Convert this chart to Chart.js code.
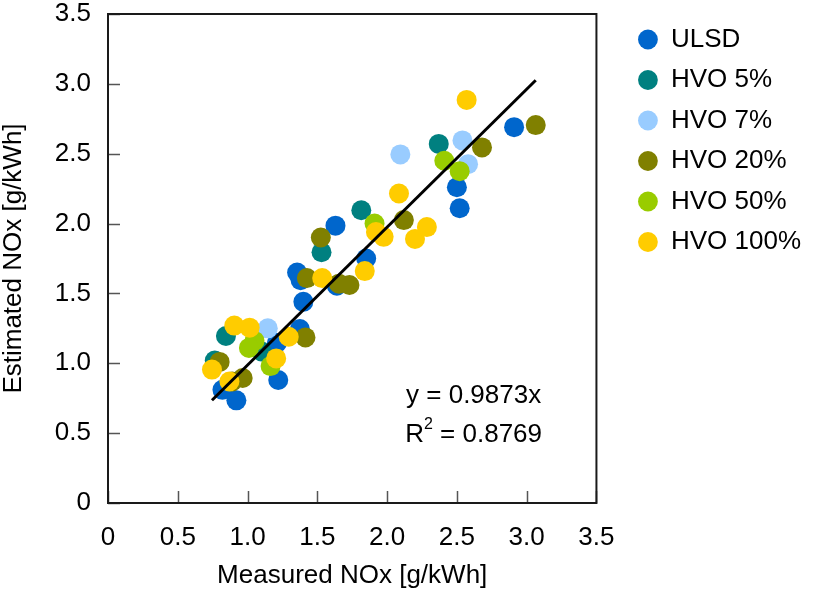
<!DOCTYPE html>
<html>
<head>
<meta charset="utf-8">
<script src="https://cdn.jsdelivr.net/npm/chart.js@4.4.1/dist/chart.umd.min.js"></script>
<style>
  html, body { margin: 0; padding: 0; background: #ffffff; }
  #wrap { width: 813px; height: 589px; }
</style>
</head>
<body>
<div id="wrap"><canvas id="chart" width="813" height="589"></canvas></div>
<script>
// Fuel blends and their colours
const seriesNames  = ['ULSD', 'HVO 5%', 'HVO 7%', 'HVO 20%', 'HVO 50%', 'HVO 100%'];
const seriesColors = ['#0066CC', '#008080', '#99CCFF', '#808000', '#99CC00', '#FFCC00'];

// Measured vs. estimated NOx [g/kWh] per blend
const ulsdMeasured     = [2.91, 2.50, 2.52, 1.63, 1.85, 1.355, 1.38, 1.64, 1.40, 1.375, 1.21, 1.22, 0.82, 0.92];
const ulsdEstimated    = [2.69, 2.26, 2.11, 1.985, 1.75, 1.65, 1.595, 1.555, 1.44, 1.245, 1.145, 0.88, 0.81, 0.735];
const hvo5Measured     = [2.37, 1.815, 1.53, 0.845, 0.765, 1.10];
const hvo5Estimated    = [2.57, 2.095, 1.795, 1.195, 1.02, 1.085];
const hvo7Measured     = [2.54, 2.095, 2.58, 1.145];
const hvo7Estimated    = [2.595, 2.495, 2.425, 1.25];
const hvo20Measured    = [3.065, 2.68, 2.12, 1.525, 1.425, 1.655, 1.73, 1.415, 0.80, 0.965, 0.89];
const hvo20Estimated   = [2.705, 2.545, 2.025, 1.90, 1.61, 1.57, 1.56, 1.185, 1.01, 0.895, 0.87];
const hvo50Measured    = [2.41, 2.52, 1.91, 1.05, 1.01, 1.165];
const hvo50Estimated   = [2.45, 2.375, 2.00, 1.16, 1.11, 0.98];
const hvo100Measured   = [2.57, 2.085, 1.92, 1.975, 2.20, 2.285, 1.84, 1.535, 1.295, 0.905, 1.015, 1.205, 0.745, 0.87];
const hvo100Estimated  = [2.885, 2.215, 1.94, 1.905, 1.89, 1.975, 1.66, 1.61, 1.19, 1.27, 1.255, 1.035, 0.955, 0.87];

// Linear fit through the origin
const fitSlope = 0.9873;
const fitR2 = 0.8769;

// Axis ticks
const tickValues = [0, 0.5, 1.0, 1.5, 2.0, 2.5, 3.0, 3.5];
const tickLabels = ['0', '0.5', '1.0', '1.5', '2.0', '2.5', '3.0', '3.5'];

const measuredSets  = [ulsdMeasured, hvo5Measured, hvo7Measured, hvo20Measured, hvo50Measured, hvo100Measured];
const estimatedSets = [ulsdEstimated, hvo5Estimated, hvo7Estimated, hvo20Estimated, hvo50Estimated, hvo100Estimated];

const FONT = '"Liberation Sans", Arial, Helvetica, sans-serif';
const TXT = 26;
Chart.defaults.font.family = FONT;
Chart.defaults.color = '#000000';

const pointSets = seriesNames.map((name, i) => ({
  label: name,
  data: measuredSets[i].map((m, k) => ({ x: m, y: estimatedSets[i][k] })),
  backgroundColor: seriesColors[i],
  borderWidth: 0,
  pointRadius: 10,
  pointHoverRadius: 10,
  pointStyle: 'circle',
  order: seriesNames.length - 1 - i   // later blends sit on top
}));

const allMeasured = measuredSets.flat();
const fitMin = Math.min(...allMeasured);
const fitMax = Math.max(...allMeasured);
const fitSet = {
  label: 'fit',
  data: [{ x: fitMin, y: fitSlope * fitMin }, { x: fitMax, y: fitSlope * fitMax }],
  showLine: true,
  borderColor: '#000000',
  borderWidth: 3,
  pointRadius: 0,
  pointHoverRadius: 0,
  fill: false,
  order: -1
};

const fmtTick = v => {
  const i = tickValues.findIndex(t => Math.abs(t - v) < 1e-6);
  return i >= 0 ? tickLabels[i] : '';
};

// Plot frame, inward tick marks and the regression note
const framePlugin = {
  id: 'frame',
  beforeDatasetsDraw(chart) {
    const { ctx, chartArea: a, scales: { x, y } } = chart;
    ctx.save();
    ctx.strokeStyle = '#555555';
    ctx.lineWidth = 1.5;
    ctx.beginPath();
    tickValues.forEach(v => {
      const px = Math.round(x.getPixelForValue(v)) + 0.5;
      ctx.moveTo(px, a.bottom); ctx.lineTo(px, a.bottom - 12);
      const py = Math.round(y.getPixelForValue(v)) + 0.5;
      ctx.moveTo(a.left, py); ctx.lineTo(a.left + 12, py);
    });
    ctx.stroke();
    ctx.strokeStyle = '#1a1a1a';
    ctx.lineWidth = 2;
    ctx.strokeRect(a.left, a.top, a.right - a.left, a.bottom - a.top);
    ctx.restore();
  },
  afterDatasetsDraw(chart) {
    const { ctx, scales: { x, y } } = chart;
    ctx.save();
    ctx.fillStyle = '#000000';
    ctx.textBaseline = 'middle';
    const big = TXT + 'px ' + FONT;
    const small = '16px ' + FONT;
    const cx = x.getPixelForValue(2.62);

    ctx.font = big;
    ctx.textAlign = 'center';
    ctx.fillText('y = ' + fitSlope.toFixed(4) + 'x', cx, y.getPixelForValue(0.77));

    const yr = y.getPixelForValue(0.49);
    const p1 = 'R', p3 = ' = ' + fitR2.toFixed(4);
    ctx.font = big; const w1 = ctx.measureText(p1).width; const w3 = ctx.measureText(p3).width;
    ctx.font = small; const w2 = ctx.measureText('2').width;
    let sx = cx - (w1 + w2 + w3) / 2;
    ctx.textAlign = 'left';
    ctx.font = big; ctx.fillText(p1, sx, yr); sx += w1;
    ctx.font = small; ctx.fillText('2', sx, yr - 10); sx += w2;
    ctx.font = big; ctx.fillText(p3, sx, yr);
    ctx.restore();
  }
};

// Move the legend block off the plot edge
const legendPlace = {
  id: 'legendPlace',
  afterLayout(chart) {
    const lg = chart.legend;
    if (!lg) return;
    const dx = chart.chartArea.right + 27 - lg.left;
    lg.left += dx; lg.right += dx;
    lg.top -= 2; lg.bottom -= 2;
  }
};

new Chart(document.getElementById('chart'), {
  type: 'scatter',
  data: { datasets: [...pointSets, fitSet] },
  options: {
    responsive: false,
    animation: false,
    events: [],
    layout: { padding: { top: 14, left: 0, bottom: 0, right: 29 } },
    plugins: {
      tooltip: { enabled: false },
      legend: {
        position: 'right',
        align: 'start',
        labels: {
          usePointStyle: true,
          boxWidth: 20,
          boxHeight: 14,
          padding: 14.5,
          font: { size: TXT },
          color: '#000000',
          filter: item => item.datasetIndex < seriesNames.length,
          sort: (a, b) => a.datasetIndex - b.datasetIndex
        }
      }
    },
    scales: {
      x: {
        type: 'linear',
        min: 0, max: 3.5,
        afterBuildTicks: s => { s.ticks = tickValues.map(v => ({ value: v })); },
        afterFit: s => { s.height = 86; s.paddingLeft = 0; s.paddingRight = 0; },
        grid: { display: false, drawTicks: false },
        border: { display: false },
        ticks: { callback: fmtTick, padding: 19, font: { size: TXT }, color: '#000000', maxRotation: 0, autoSkip: false },
        title: { display: true, text: 'Measured NOx [g/kWh]', font: { size: TXT, lineHeight: 1.0 }, padding: 0, color: '#000000' }
      },
      y: {
        type: 'linear',
        min: 0, max: 3.5,
        afterBuildTicks: s => { s.ticks = tickValues.map(v => ({ value: v })); },
        afterFit: s => { s.width = 108; s.paddingTop = 0; s.paddingBottom = 0; },
        grid: { display: false, drawTicks: false },
        border: { display: false },
        ticks: { callback: fmtTick, padding: 17, font: { size: TXT }, color: '#000000', autoSkip: false },
        title: { display: true, text: 'Estimated NOx [g/kWh]', font: { size: TXT, lineHeight: 1.05 }, padding: 0, color: '#000000' }
      }
    }
  },
  plugins: [framePlugin, legendPlace]
});
</script>
</body>
</html>
